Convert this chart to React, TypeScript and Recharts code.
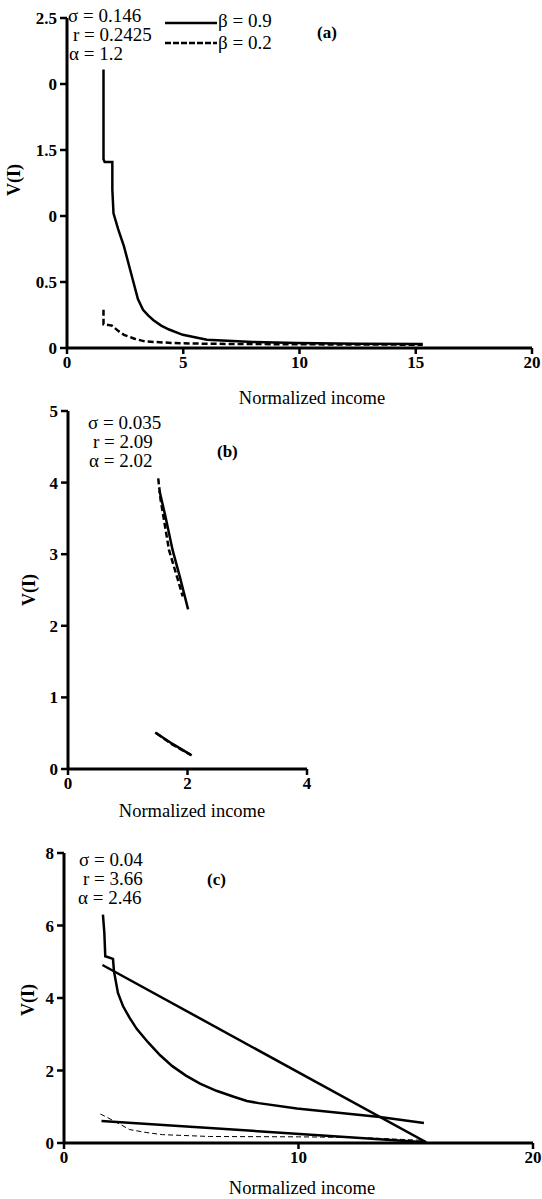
import React from 'react';
import { LineChart, Line, XAxis, YAxis } from 'recharts';

const serif = '"Liberation Serif", "Times New Roman", serif';

// panel (a)
const aTicksX = [0, 5, 10, 15, 20];
const aTicksY = [0, 0.5, 1, 1.5, 2, 2.5];
const aTickLabelsY = ['0', '0.5', '0', '1.5', '0', '2.5'];
const aX90 = [1.57, 1.57, 1.62, 1.95, 1.95, 2.0, 2.2, 2.45, 2.75, 3.05, 3.27, 3.5, 3.72, 4.05, 4.39, 4.98, 6.02, 8.0, 9.9, 12.5, 15.3];
const aY90 = [2.11, 1.43, 1.41, 1.41, 1.2, 1.02, 0.9, 0.77, 0.57, 0.37, 0.29, 0.245, 0.21, 0.17, 0.14, 0.1, 0.063, 0.045, 0.038, 0.033, 0.03];
const aX20 = [1.57, 1.57, 1.6, 1.93, 2.2, 2.45, 2.9, 3.35, 4.55, 6.0, 10, 15.3];
const aY20 = [0.29, 0.18, 0.18, 0.17, 0.13, 0.1, 0.07, 0.05, 0.038, 0.032, 0.028, 0.025];

// panel (b)
const bTicksX = [0, 2, 4];
const bTicksY = [0, 1, 2, 3, 4, 5];
const bXUpSolid = [1.53, 1.63, 1.75, 1.87, 2.01];
const bYUpSolid = [3.89, 3.53, 3.06, 2.69, 2.23];
const bXUpDash = [1.51, 1.55, 1.69, 1.84, 1.92];
const bYUpDash = [4.06, 3.76, 3.06, 2.64, 2.41];
const bXLowSolid = [1.46, 1.75, 2.07];
const bYLowSolid = [0.51, 0.35, 0.19];
const bXLowDash = [1.48, 1.75, 2.05];
const bYLowDash = [0.5, 0.34, 0.2];

// panel (c)
const cTicksX = [0, 10, 20];
const cTicksY = [0, 2, 4, 6, 8];
const cXCurve = [1.66, 1.72, 1.76, 2.09, 2.13, 2.3, 2.52, 2.8, 3.1, 3.58, 4.1, 4.62, 5.2, 5.8, 6.5, 7.27, 7.8, 8.3, 9.93, 13.47, 15.35];
const cYCurve = [6.3, 5.8, 5.15, 5.08, 4.74, 4.14, 3.77, 3.45, 3.15, 2.78, 2.42, 2.12, 1.86, 1.64, 1.44, 1.27, 1.16, 1.1, 0.95, 0.72, 0.55];
const cXUpper = [1.64, 15.45];
const cYUpper = [4.91, 0.02];
const cXLower = [1.6, 15.4];
const cYLower = [0.61, 0.02];
const cXDash = [1.55, 2.1, 2.8, 3.5, 4.2, 6.2, 10, 12.7, 15.4];
const cYDash = [0.8, 0.62, 0.37, 0.29, 0.23, 0.18, 0.17, 0.15, 0.07];

const pts = (xs: number[], ys: number[]) => xs.map((x, i) => ({ x, y: ys[i] }));

const tickStyle = { fontSize: 17, fontWeight: 700, fill: '#000', fontFamily: serif };
const axisLine = { stroke: '#000', strokeWidth: 3 };
const tickLine = { stroke: '#000', strokeWidth: 2.5 };

type Series = { data: { x: number; y: number }[]; dash?: string; width?: number };

function Panel(props: {
  top: number; width: number; height: number; yW: number; mTop: number; mRight: number;
  xDomain: number[]; xTicks: number[]; yDomain: number[]; yTicks: number[];
  yFmt?: (v: number, i: number) => string; series: Series[];
}) {
  const { top, width, height, yW, mTop, mRight } = props;
  return (
    <div style={{ position: 'absolute', left: 0, top }}>
      <LineChart width={width} height={height} margin={{ top: mTop, right: mRight, bottom: 0, left: 0 }}>
        <XAxis type="number" dataKey="x" domain={props.xDomain} ticks={props.xTicks} height={30}
          axisLine={axisLine} tickLine={tickLine} tickSize={6} tickMargin={2} tick={tickStyle}
          allowDataOverflow interval={0} />
        <YAxis type="number" dataKey="y" domain={props.yDomain} ticks={props.yTicks} width={yW}
          axisLine={axisLine} tickLine={tickLine} tickSize={7} tickMargin={3} tick={tickStyle}
          tickFormatter={props.yFmt} allowDataOverflow interval={0} />
        {props.series.map((s, i) => (
          <Line key={i} data={s.data} dataKey="y" type="linear" stroke="#000"
            strokeWidth={s.width ?? 2.5} strokeDasharray={s.dash} dot={false}
            isAnimationActive={false} />
        ))}
      </LineChart>
    </div>
  );
}

// text placed by its vertical centre; line box kept smaller than the font so stacked lines don't collide
function T({ x, y, size = 19, bold = false, center = false, children }: {
  x: number; y: number; size?: number; bold?: boolean; center?: boolean; children: React.ReactNode;
}) {
  const lh = Math.round(size * 0.85);
  return (
    <div style={{
      position: 'absolute', left: x, top: y - lh / 2, fontSize: size, lineHeight: `${lh}px`,
      fontFamily: serif, fontWeight: bold ? 700 : 400, whiteSpace: 'nowrap', color: '#000',
      transform: center ? 'translateX(-50%)' : undefined,
    }}>{children}</div>
  );
}

function VLabel({ x, y }: { x: number; y: number }) {
  return (
    <div style={{
      position: 'absolute', left: x, top: y, fontSize: 18, fontWeight: 700, fontFamily: serif,
      whiteSpace: 'nowrap', transform: 'translate(-50%,-50%) rotate(-90deg)', lineHeight: '18px',
    }}>V(I)</div>
  );
}

function LegendLine({ x, y, dash }: { x: number; y: number; dash?: string }) {
  return (
    <svg style={{ position: 'absolute', left: x, top: y - 2 }} width={52} height={4}>
      <line x1={0} y1={2} x2={52} y2={2} stroke="#000" strokeWidth={2.5} strokeDasharray={dash} />
    </svg>
  );
}

export default function App() {
  return (
    <div style={{ position: 'absolute', left: 0, top: 0, width: 542, height: 1199, background: '#fff', overflow: 'hidden' }}>
      <Panel top={0} width={542} height={378} yW={67} mTop={18} mRight={10}
        xDomain={[0, 20]} xTicks={aTicksX} yDomain={[0, 2.5]} yTicks={aTicksY}
        yFmt={(v) => aTickLabelsY[aTicksY.indexOf(v)] ?? String(v)}
        series={[
          { data: pts(aX90, aY90) },
          { data: pts(aX20, aY20), dash: '6 3' },
        ]} />
      <Panel top={392} width={320} height={407} yW={68} mTop={19} mRight={13}
        xDomain={[0, 4]} xTicks={bTicksX} yDomain={[0, 5]} yTicks={bTicksY}
        series={[
          { data: pts(bXUpSolid, bYUpSolid) },
          { data: pts(bXUpDash, bYUpDash), dash: '6 3' },
          { data: pts(bXLowSolid, bYLowSolid) },
          { data: pts(bXLowDash, bYLowDash), dash: '6 3' },
        ]} />
      <Panel top={835} width={542} height={338} yW={64} mTop={18} mRight={9}
        xDomain={[0, 20]} xTicks={cTicksX} yDomain={[0, 8]} yTicks={cTicksY}
        series={[
          { data: pts(cXCurve, cYCurve) },
          { data: pts(cXUpper, cYUpper) },
          { data: pts(cXLower, cYLower) },
          { data: pts(cXDash, cYDash), dash: '5 3', width: 1 },
        ]} />

      {/* panel (a) text */}
      <T x={68} y={16}>σ = 0.146</T>
      <T x={73} y={35}>r = 0.2425</T>
      <T x={69} y={54}>α = 1.2</T>
      <LegendLine x={165} y={23} />
      <T x={218} y={21}>β = 0.9</T>
      <LegendLine x={165} y={43} dash="6 2" />
      <T x={218} y={43}>β = 0.2</T>
      <T x={317} y={33} size={17} bold>(a)</T>
      <VLabel x={14} y={180} />
      <T x={312} y={398} size={18.5} center>Normalized income</T>

      {/* panel (b) text */}
      <T x={88} y={423}>σ = 0.035</T>
      <T x={93} y={442}>r = 2.09</T>
      <T x={89} y={461}>α = 2.02</T>
      <T x={217} y={452} size={17} bold>(b)</T>
      <VLabel x={29} y={590} />
      <T x={192} y={811} size={18.5} center>Normalized income</T>

      {/* panel (c) text */}
      <T x={79} y={860}>σ = 0.04</T>
      <T x={83} y={879}>r = 3.66</T>
      <T x={78} y={898}>α = 2.46</T>
      <T x={207} y={880} size={17} bold>(c)</T>
      <VLabel x={28} y={1000} />
      <T x={302} y={1188} size={18.5} center>Normalized income</T>
    </div>
  );
}
